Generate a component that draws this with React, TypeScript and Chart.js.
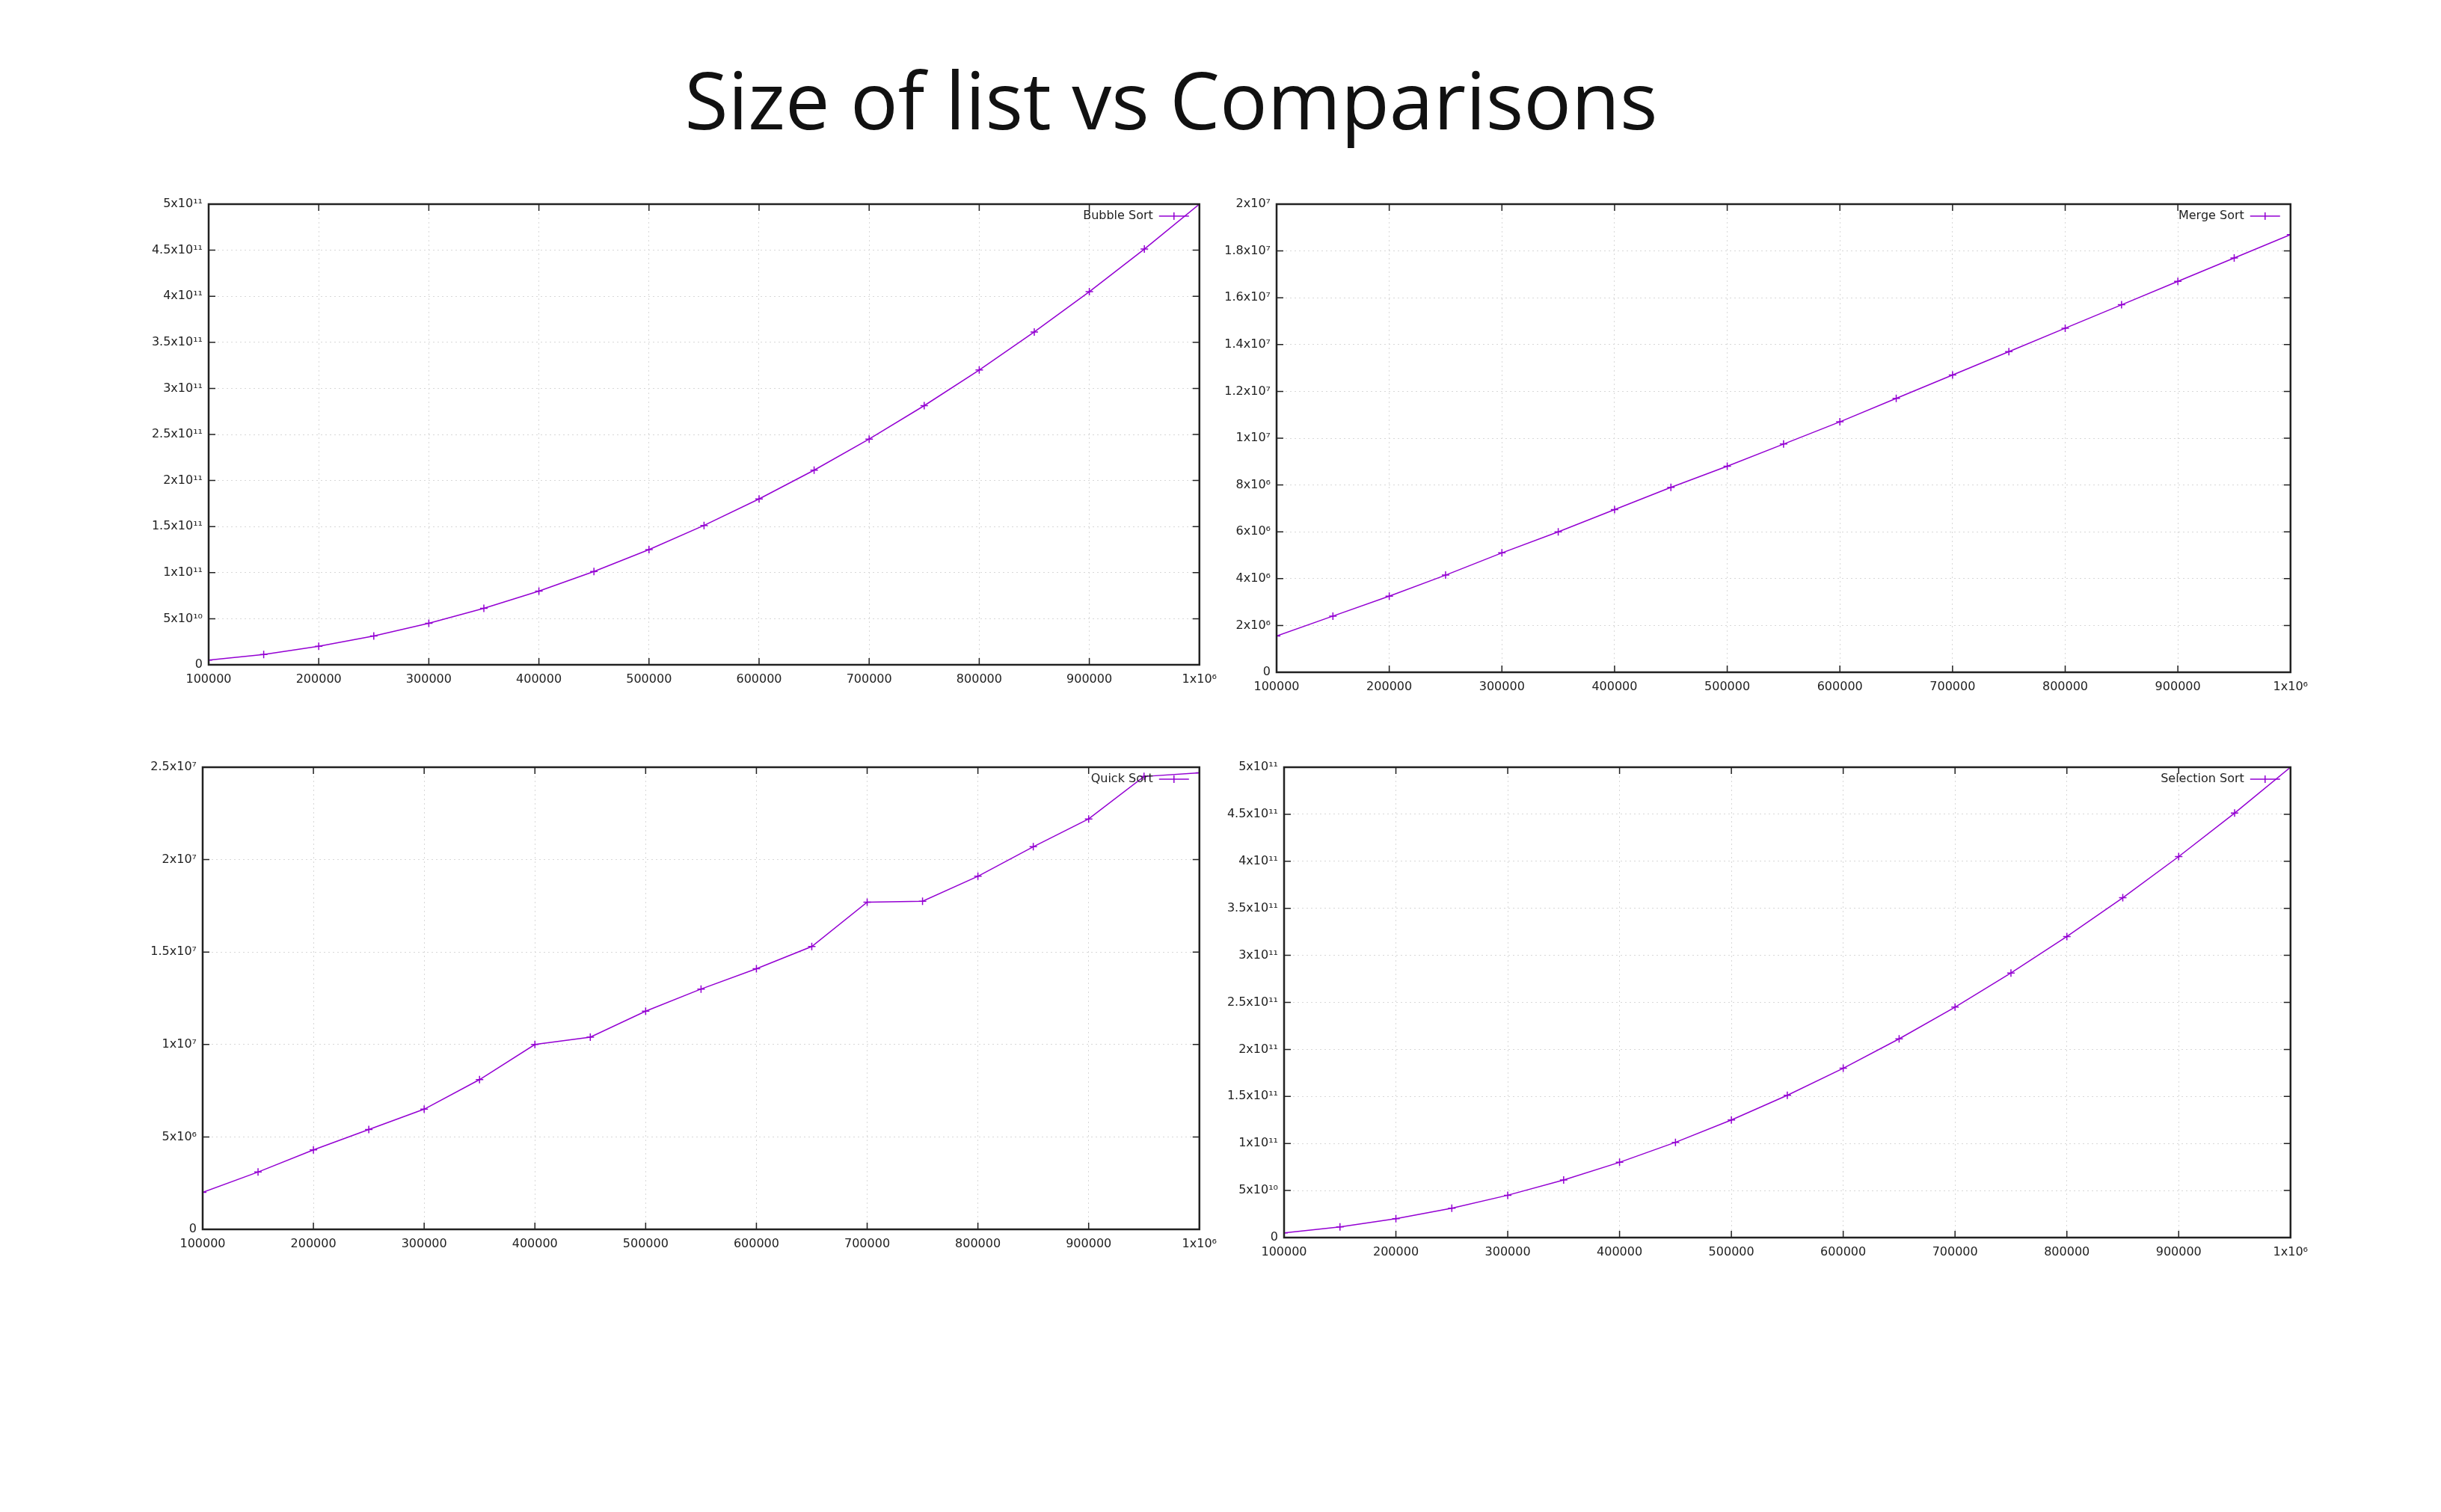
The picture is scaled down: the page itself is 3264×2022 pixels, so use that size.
import { useEffect, useRef } from "react";
import { Chart, registerables } from "chart.js";

Chart.register(...registerables);

const sizes = [100000, 150000, 200000, 250000, 300000, 350000, 400000, 450000, 500000, 550000, 600000, 650000, 700000, 750000, 800000, 850000, 900000, 950000, 1000000];

const bubble = [5e9, 1.125e10, 2e10, 3.125e10, 4.5e10, 6.125e10, 8e10, 1.0125e11, 1.25e11, 1.5125e11, 1.8e11, 2.1125e11, 2.45e11, 2.8125e11, 3.2e11, 3.6125e11, 4.05e11, 4.5125e11, 5e11];
const merge = [1.55e6, 2.4e6, 3.25e6, 4.15e6, 5.1e6, 6.0e6, 6.95e6, 7.9e6, 8.8e6, 9.75e6, 1.07e7, 1.17e7, 1.27e7, 1.37e7, 1.47e7, 1.57e7, 1.67e7, 1.77e7, 1.87e7];
const quick = [2.0e6, 3.1e6, 4.3e6, 5.4e6, 6.5e6, 8.1e6, 1.0e7, 1.04e7, 1.18e7, 1.3e7, 1.41e7, 1.53e7, 1.77e7, 1.775e7, 1.91e7, 2.07e7, 2.22e7, 2.45e7, 2.47e7];
const selection = [5e9, 1.125e10, 2e10, 3.125e10, 4.5e10, 6.125e10, 8e10, 1.0125e11, 1.25e11, 1.5125e11, 1.8e11, 2.1125e11, 2.45e11, 2.8125e11, 3.2e11, 3.6125e11, 4.05e11, 4.5125e11, 5e11];

const xTicks = [100000, 200000, 300000, 400000, 500000, 600000, 700000, 800000, 900000, 1000000];
const yTicksSquare = [0, 5e10, 1e11, 1.5e11, 2e11, 2.5e11, 3e11, 3.5e11, 4e11, 4.5e11, 5e11];
const yTicksMerge = [0, 2e6, 4e6, 6e6, 8e6, 1e7, 1.2e7, 1.4e7, 1.6e7, 1.8e7, 2e7];
const yTicksQuick = [0, 5e6, 1e7, 1.5e7, 2e7, 2.5e7];

const PURPLE = "#9400d3";
const SUP: Record<string, string> = { "0": "⁰", "1": "¹", "2": "²", "3": "³", "4": "⁴", "5": "⁵", "6": "⁶", "7": "⁷", "8": "⁸", "9": "⁹" };

function fmt(v: number): string {
  if (v < 1e6) return String(v);
  const e = Math.floor(Math.log10(v) + 1e-9);
  const m = Math.round((v / Math.pow(10, e)) * 10) / 10;
  return `${m}x10${String(e).split("").map((c) => SUP[c]).join("")}`;
}

const framePlugin = {
  id: "frame",
  afterDraw(chart: any) {
    const { ctx, chartArea: a, scales } = chart;
    ctx.save();
    ctx.strokeStyle = "#222";
    ctx.lineWidth = 1.5;
    const tl = 9;
    ctx.beginPath();
    for (const t of scales.x.ticks) {
      const x = scales.x.getPixelForValue(t.value);
      ctx.moveTo(x, a.bottom); ctx.lineTo(x, a.bottom - tl);
      ctx.moveTo(x, a.top); ctx.lineTo(x, a.top + tl);
    }
    for (const t of scales.y.ticks) {
      const y = scales.y.getPixelForValue(t.value);
      ctx.moveTo(a.left, y); ctx.lineTo(a.left + tl, y);
      ctx.moveTo(a.right, y); ctx.lineTo(a.right - tl, y);
    }
    ctx.stroke();
    ctx.lineWidth = 2.5;
    ctx.strokeRect(a.left, a.top, a.right - a.left, a.bottom - a.top);
    // gnuplot-style key
    const label = chart.data.datasets[0].label;
    const ly = a.top + 16;
    ctx.font = "16px 'DejaVu Sans'";
    ctx.fillStyle = "#222";
    ctx.textAlign = "right";
    ctx.textBaseline = "middle";
    ctx.fillText(label, a.right - 62, ly);
    ctx.strokeStyle = PURPLE;
    ctx.lineWidth = 1.5;
    ctx.beginPath();
    ctx.moveTo(a.right - 54, ly); ctx.lineTo(a.right - 14, ly);
    const cx = a.right - 34;
    ctx.moveTo(cx - 5, ly); ctx.lineTo(cx + 5, ly);
    ctx.moveTo(cx, ly - 5); ctx.lineTo(cx, ly + 5);
    ctx.stroke();
    ctx.restore();
  },
};

interface PlotProps {
  label: string;
  data: number[];
  yTicks: number[];
  L: number; R: number; T: number; B: number;
}

function Plot({ label, data, yTicks, L, R, T, B }: PlotProps) {
  const canvasRef = useRef<HTMLCanvasElement>(null);
  const chartRef = useRef<Chart | null>(null);

  useEffect(() => {
    if (!canvasRef.current) return;
    chartRef.current?.destroy();
    const grid = { color: "#d8d8d8", lineWidth: 1, drawTicks: false } as any;
    const tickFont = { family: "'DejaVu Sans'", size: 16 };
    chartRef.current = new Chart(canvasRef.current, {
      type: "line",
      data: {
        datasets: [{
          label,
          data: sizes.map((s, i) => ({ x: s, y: data[i] })),
          borderColor: PURPLE,
          backgroundColor: PURPLE,
          borderWidth: 1.5,
          pointStyle: "cross",
          pointRadius: 5,
          pointBorderWidth: 1.5,
          tension: 0,
        }],
      },
      options: {
        animation: false,
        responsive: true,
        maintainAspectRatio: false,
        layout: { padding: { top: 20, right: 30 } },
        plugins: { legend: { display: false }, tooltip: { enabled: false } },
        scales: {
          x: {
            type: "linear", min: 100000, max: 1000000,
            grid,
            border: { display: false, dash: [2, 4] },
            afterBuildTicks: (s: any) => { s.ticks = xTicks.map((v) => ({ value: v })); },
            afterFit: (s: any) => { s.height = 50; },
            ticks: { color: "#222", font: tickFont, padding: 10, maxRotation: 0, autoSkip: false, callback: (v: any) => fmt(Number(v)) },
          },
          y: {
            type: "linear", min: yTicks[0], max: yTicks[yTicks.length - 1],
            grid,
            border: { display: false, dash: [2, 4] },
            afterBuildTicks: (s: any) => { s.ticks = yTicks.map((v) => ({ value: v })); },
            afterFit: (s: any) => { s.width = 120; },
            ticks: { color: "#222", font: tickFont, padding: 8, autoSkip: false, callback: (v: any) => fmt(Number(v)) },
          },
        },
      },
      plugins: [framePlugin],
    } as any);
    return () => { chartRef.current?.destroy(); };
  }, [label, data, yTicks]);

  return (
    <div style={{ position: "absolute", left: L - 120, top: T - 20, width: R - L + 150, height: B - T + 70 }}>
      <canvas ref={canvasRef} />
    </div>
  );
}

export default function App() {
  return (
    <div style={{ position: "relative", width: 3248, height: 2000, background: "#fff", fontFamily: "'Open Sans', sans-serif" }}>
      <div style={{ position: "absolute", left: 0, width: 3116, top: 52, textAlign: "center", fontSize: 106, color: "#111" }}>
        Size of list vs Comparisons
      </div>
      <Plot label="Bubble Sort" data={bubble} yTicks={yTicksSquare} L={271} R={1599} T={265} B={881} />
      <Plot label="Merge Sort" data={merge} yTicks={yTicksMerge} L={1699} R={3058} T={265} B={891} />
      <Plot label="Quick Sort" data={quick} yTicks={yTicksQuick} L={263} R={1599} T={1018} B={1636} />
      <Plot label="Selection Sort" data={selection} yTicks={yTicksSquare} L={1709} R={3058} T={1018} B={1647} />
    </div>
  );
}
